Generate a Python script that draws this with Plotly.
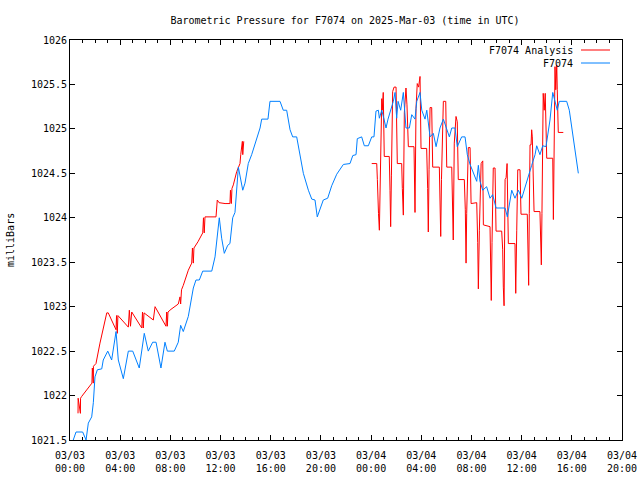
import datetime as dt
import plotly.graph_objects as go

START = dt.datetime(2025, 3, 3, 0, 0)

# F7074 observed pressure (hours since 2025-03-03 00:00 UTC, mb)
obs_hours = [0.26, 0.48, 1.01, 1.28, 1.46, 1.73, 1.86, 1.99, 2.18, 2.53, 2.65, 3.01, 3.32, 3.67, 3.85,
             4.25, 4.65, 5.00, 5.52, 5.92, 6.24, 6.59, 6.86, 7.25, 7.57, 7.76, 8.31, 8.63, 8.82, 9.03,
             9.43, 9.83, 10.04, 10.31, 10.58, 11.30, 11.56, 11.90, 12.09, 12.30, 12.57, 12.75, 12.97,
             13.15, 13.42, 13.77, 13.95, 14.21, 14.48, 14.88, 15.15, 15.28, 15.78, 15.94, 16.74, 17.00,
             17.27, 17.54, 17.75, 18.07, 18.33, 18.60, 19.00, 19.27, 19.53, 19.71, 20.19, 20.54, 20.86,
             21.26, 21.79, 22.32, 22.54, 22.80, 22.90, 23.25, 23.46, 23.78, 24.05, 24.23, 24.39, 24.58,
             24.66, 24.85, 25.03, 25.19, 25.35, 25.56, 25.77, 25.91, 26.04, 26.15, 26.36, 26.57, 26.78,
             27.05, 27.24, 27.50, 27.64, 27.90, 28.04, 28.30, 28.44, 28.70, 28.96, 29.18, 29.49, 29.76,
             30.03, 30.24, 30.43, 30.69, 30.87, 31.22, 31.49, 31.67, 31.89, 32.15, 32.42, 32.55, 32.68,
             32.90, 33.21, 33.48, 33.69, 33.96, 34.68, 34.86, 35.02, 35.21, 35.47, 35.74, 36.01, 36.27,
             36.40, 36.61, 36.80, 37.07, 37.20, 37.46, 37.68, 37.94, 38.05, 38.26, 38.48, 38.66, 38.84,
             39.00, 39.27, 39.59, 39.80, 39.99, 40.17, 40.33, 40.52]
obs_values = [1021.50, 1021.59, 1021.59, 1021.50, 1021.69, 1021.76, 1021.92, 1022.21, 1022.29, 1022.30,
              1022.40, 1022.50, 1022.40, 1022.72, 1022.40, 1022.19, 1022.50, 1022.50, 1022.31, 1022.70,
              1022.50, 1022.60, 1022.60, 1022.31, 1022.60, 1022.50, 1022.50, 1022.60, 1022.79, 1022.72,
              1022.89, 1023.21, 1023.30, 1023.30, 1023.40, 1023.40, 1023.56, 1024.00, 1023.77, 1023.60,
              1023.69, 1023.71, 1024.00, 1024.06, 1024.57, 1024.31, 1024.39, 1024.61, 1024.71, 1024.88,
              1025.01, 1025.11, 1025.11, 1025.31, 1025.31, 1025.21, 1025.21, 1024.99, 1024.91, 1024.91,
              1024.69, 1024.50, 1024.31, 1024.21, 1024.20, 1024.01, 1024.20, 1024.22, 1024.36, 1024.49,
              1024.60, 1024.61, 1024.70, 1024.71, 1024.89, 1024.91, 1024.81, 1024.81, 1024.91, 1024.91,
              1025.20, 1025.21, 1025.12, 1025.21, 1025.11, 1025.01, 1025.11, 1025.21, 1025.31, 1025.41,
              1025.12, 1025.31, 1025.21, 1025.41, 1025.01, 1025.01, 1025.16, 1025.11, 1025.31, 1025.41,
              1025.21, 1025.11, 1025.21, 1024.91, 1024.95, 1024.80, 1025.01, 1025.11, 1025.01, 1024.91,
              1025.01, 1025.01, 1024.80, 1024.91, 1024.91, 1024.71, 1024.60, 1024.50, 1024.41, 1024.59,
              1024.41, 1024.31, 1024.35, 1024.22, 1024.26, 1024.11, 1024.11, 1024.01, 1024.16, 1024.31,
              1024.22, 1024.31, 1024.22, 1024.35, 1024.41, 1024.50, 1024.59, 1024.71, 1024.81, 1024.71,
              1024.81, 1024.80, 1024.91, 1025.10, 1025.41, 1025.31, 1025.21, 1025.31, 1025.31, 1025.31,
              1025.21, 1025.01, 1024.88, 1024.71, 1024.50]

# F7074 Analysis pressure (None = gap)
ana_hours = [0.64, 0.65, 0.83, 0.84, 0.93, 1.59, 1.75, 1.78, 1.86, 1.87, 2.07, 2.39, 2.65, 2.93, 3.05,
             3.67, 3.71, 3.77, 3.82, 4.65, 4.73, 4.82, 4.92, 5.72, 5.78, 5.84, 5.90, 6.64, 6.78, 7.65,
             7.71, 7.76, 7.81, 8.05, 8.63, 8.77, 8.82, 8.89, 9.03, 9.43, 9.70, 9.76, 9.83, 9.88, 10.20,
             10.58, 10.64, 10.70, 10.76, 11.64, 11.74, 11.88, 12.36, 12.75, 12.79, 12.86, 12.91, 13.02,
             13.29, 13.55, 13.61, 13.74, 13.77, 13.85,
             None,
             24.05, 24.45, 24.50, 24.53, 24.55, 24.59, 24.66, 24.71, 24.85, 24.89, 24.97, 25.05, 25.45,
             25.51, 25.56, 25.62, 25.72, 25.83, 25.99, 26.09, 26.44, 26.49, 26.57, 26.65, 26.78, 26.86,
             26.97, 27.42, 27.46, 27.50, 27.58, 27.68, 27.79, 27.90, 27.98, 28.43, 28.51, 28.56, 28.62,
             28.70, 28.83, 28.91, 29.44, 29.49, 29.55, 29.61, 29.76, 29.95, 30.03, 30.43, 30.51, 30.55,
             30.63, 30.77, 30.87, 30.95, 31.43, 31.51, 31.57, 31.62, 31.75, 31.89, 31.97, 32.42, 32.50,
             32.55, 32.63, 32.77, 32.90, 32.95, 33.48, 33.54, 33.58, 33.64, 33.69, 33.74, 33.88, 33.96,
             34.41, 34.49, 34.54, 34.60, 34.68, 34.76, 34.84, 34.94, 35.47, 35.53, 35.61, 35.69, 35.87,
             35.95, 36.45, 36.51, 36.56, 36.61, 36.67, 36.75, 36.80, 36.85, 36.99, 37.46, 37.52, 37.57,
             37.62, 37.68, 37.72, 37.80, 37.88, 38.00, 38.48, 38.53, 38.58, 38.66, 38.72, 38.80, 38.84,
             38.92, 39.32]
ana_values = [1021.80, 1021.97, 1021.80, 1021.97, 1021.99, 1022.12, 1022.14, 1022.31, 1022.14, 1022.33,
              1022.36, 1022.59, 1022.74, 1022.93, 1022.93, 1022.74, 1022.90, 1022.70, 1022.90, 1022.77,
              1022.96, 1022.78, 1022.94, 1022.76, 1022.94, 1022.76, 1022.93, 1022.85, 1023.00, 1022.78,
              1022.94, 1022.78, 1022.94, 1022.97, 1023.03, 1023.11, 1023.03, 1023.19, 1023.24, 1023.41,
              1023.49, 1023.66, 1023.49, 1023.66, 1023.73, 1023.83, 1024.00, 1023.83, 1024.01, 1024.01,
              1024.20, 1024.17, 1024.16, 1024.16, 1024.31, 1024.16, 1024.33, 1024.37, 1024.52, 1024.61,
              1024.71, 1024.86, 1024.71, 1024.86,
              None,
              1024.61, 1024.61, 1024.43, 1024.05, 1024.43, 1024.05, 1023.86, 1024.39, 1025.34, 1025.21,
              1025.41, 1024.69, 1024.69, 1024.31, 1023.90, 1024.48, 1025.42, 1025.47, 1025.47, 1024.61,
              1024.61, 1024.33, 1024.03, 1025.18, 1025.46, 1025.27, 1024.80, 1024.80, 1024.40, 1024.06,
              1025.23, 1025.51, 1025.47, 1025.59, 1024.78, 1024.78, 1024.33, 1023.84, 1024.54, 1025.24,
              1025.24, 1024.57, 1024.57, 1024.16, 1023.79, 1024.43, 1025.31, 1025.31, 1024.57, 1024.57,
              1024.18, 1023.75, 1024.84, 1025.14, 1025.08, 1024.43, 1024.43, 1024.09, 1023.49, 1024.05,
              1024.79, 1024.79, 1024.16, 1024.17, 1023.72, 1023.20, 1023.86, 1024.61, 1024.64, 1023.92,
              1023.90, 1023.49, 1023.07, 1023.72, 1024.45, 1024.56, 1024.56, 1023.85, 1023.85, 1023.64,
              1023.22, 1023.01, 1024.43, 1024.45, 1024.61, 1023.71, 1023.71, 1023.15, 1023.86, 1024.54,
              1024.54, 1024.04, 1024.04, 1023.64, 1023.24, 1024.05, 1024.82, 1024.82, 1024.99, 1024.91,
              1024.07, 1024.07, 1023.78, 1023.47, 1024.05, 1024.91, 1025.40, 1025.21, 1025.40, 1024.67,
              1024.67, 1023.98, 1024.76, 1025.70, 1025.44, 1025.72, 1025.44, 1024.96, 1024.96]

series_names = ["F7074 Analysis", "F7074"]
series_colors = ["#ff0000", "#0080ff"]


def to_time(hours):
    return [None if h is None else START + dt.timedelta(hours=h) for h in hours]


FONT = "DejaVu Sans Mono"
W, H = 640, 480
L, R, T, B = 70, 18, 40, 40
PW, PH = W - L - R, H - T - B


def px_x(x):
    return (x - L) / PW


def px_y(y):
    return 1 - (y - T) / PH


fig = go.Figure()
fig.add_trace(go.Scatter(x=to_time(ana_hours), y=ana_values, mode="lines",
                         line=dict(color=series_colors[0], width=1), name=series_names[0],
                         connectgaps=False))
fig.add_trace(go.Scatter(x=to_time(obs_hours), y=obs_values, mode="lines",
                         line=dict(color=series_colors[1], width=1), name=series_names[1]))

# gnuplot-style key: text right-aligned, sample line to its right
for i, (name, col) in enumerate(zip(series_names, series_colors)):
    yp = px_y(50 + i * 13)
    fig.add_annotation(xref="paper", yref="paper", x=px_x(575), y=yp, text=name,
                       showarrow=False, xanchor="right", yanchor="middle",
                       font=dict(family=FONT, size=10, color="black"))
    fig.add_shape(type="line", xref="paper", yref="paper",
                  x0=px_x(581), x1=px_x(610), y0=yp, y1=yp,
                  line=dict(color=col, width=1))

fig.add_annotation(xref="paper", yref="paper", x=px_x(10), y=0.5, text="milliBars",
                   textangle=-90, showarrow=False, xanchor="center", yanchor="middle",
                   font=dict(family=FONT, size=10, color="black"))

fig.update_layout(
    width=W, height=H,
    margin=dict(l=L, r=R, t=T, b=B, autoexpand=False),
    paper_bgcolor="white", plot_bgcolor="white",
    showlegend=False,
    hovermode=False,
    font=dict(family=FONT, size=10, color="black"),
    title=dict(text="Barometric Pressure for F7074 on 2025-Mar-03 (time in UTC)",
               x=345 / W, xanchor="center", xref="container",
               y=1 - 20 / H, yanchor="middle",
               yref="container", font=dict(family=FONT, size=10, color="black")),
)

fig.update_xaxes(
    type="date",
    range=[START, START + dt.timedelta(hours=44)],
    tick0=START, dtick=4 * 3600 * 1000,
    tickformat="%m/%d<br>%H:%M",
    ticks="inside", ticklen=5, tickcolor="black", tickwidth=1,
    minor=dict(dtick=3600 * 1000, ticks="inside", ticklen=3, tickcolor="black", showgrid=False),
    showline=True, linecolor="black", linewidth=1, mirror="ticks",
    showgrid=False, zeroline=False,
    ticklabelstandoff=6,
    tickfont=dict(family=FONT, size=10, color="black"),
)
fig.update_yaxes(
    range=[1021.5, 1026], tick0=1021.5, dtick=0.5, tickformat=".1~f",
    ticks="inside", ticklen=5, tickcolor="black", tickwidth=1,
    showline=True, linecolor="black", linewidth=1, mirror="ticks",
    showgrid=False, zeroline=False,
    tickfont=dict(family=FONT, size=10, color="black"),
)

# remove the page's default body margin so the 640x480 figure fills the window exactly
fig.write_html("out.html",
               config={"displayModeBar": False, "staticPlot": True},
               post_script="document.body.style.margin='0px';document.body.style.overflow='hidden';")
